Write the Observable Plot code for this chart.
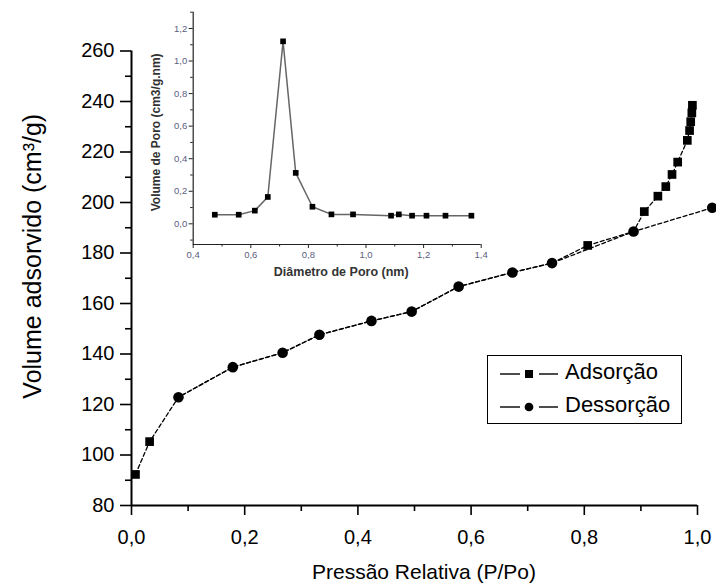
<!DOCTYPE html>
<html>
<head>
<meta charset="utf-8">
<script src="https://cdn.jsdelivr.net/npm/d3@7"></script>
<script src="https://cdn.jsdelivr.net/npm/@observablehq/plot@0.6"></script>
<style>
  html, body { margin: 0; padding: 0; background: #fff; }
  #wrap { position: relative; width: 716px; height: 587px; overflow: hidden; }
  #main, #inset { position: absolute; left: 0; top: 0; }
  #inset g[aria-label$="tick label"] { fill: #5a6080; }
  #legend { position: absolute; left: 487px; top: 355px; width: 195px; height: 69px;
            box-sizing: border-box; border: 1.5px solid #000; background: #fff;
            font-family: "Liberation Sans", Arial, sans-serif; font-size: 22px; }
  #legend svg { position: absolute; left: 0; top: 0; }
  #legend .t { position: absolute; left: 77px; line-height: 1; }
</style>
</head>
<body>
<div id="wrap">
  <div id="main"></div>
  <div id="inset"></div>
  <div id="legend">
    <svg width="195" height="69"></svg>
    <span class="t" style="top:5px">Adsorção</span>
    <span class="t" style="top:38px">Dessorção</span>
  </div>
</div>
<script>
// ---- main isotherm data ----
const adsX = [0.007, 0.032, 0.083, 0.179, 0.267, 0.332, 0.424, 0.495, 0.578, 0.673, 0.743, 0.806, 0.887, 0.906, 0.930, 0.944, 0.955, 0.965, 0.982, 0.986, 0.988, 0.990, 0.991];
const adsY = [92.3, 105.3, 122.9, 134.8, 140.5, 147.6, 153.1, 156.8, 166.7, 172.3, 176.0, 183.0, 188.5, 196.4, 202.5, 206.3, 211.1, 216.0, 224.6, 228.5, 232.0, 235.5, 238.5];
const desX = [1.026, 0.887, 0.743, 0.673, 0.578, 0.495, 0.424, 0.332, 0.267, 0.179, 0.083];
const desY = [197.9, 188.5, 176.0, 172.3, 166.7, 156.8, 153.1, 147.6, 140.5, 134.8, 122.9];
// ---- inset (pore size distribution) ----
const poreD = [0.475, 0.558, 0.614, 0.659, 0.712, 0.756, 0.814, 0.880, 0.955, 1.087, 1.114, 1.160, 1.210, 1.276, 1.366];
const poreV = [0.056, 0.056, 0.081, 0.165, 1.121, 0.313, 0.105, 0.058, 0.058, 0.050, 0.058, 0.050, 0.050, 0.050, 0.050];
// ---- ticks & labels ----
const xTicks = [0, 0.2, 0.4, 0.6, 0.8, 1.0];
const xMinor = [0.1, 0.3, 0.5, 0.7, 0.9];
const yTicks = [80, 100, 120, 140, 160, 180, 200, 220, 240, 260];
const yMinor = [90, 110, 130, 150, 170, 190, 210, 230, 250];
const insetXTicks = [0.4, 0.6, 0.8, 1.0, 1.2, 1.4];
const insetXMinor = [0.5, 0.7, 0.9, 1.1, 1.3];
const insetYTicks = [0, 0.2, 0.4, 0.6, 0.8, 1.0, 1.2];
const insetYMinor = [-0.1, 0.1, 0.3, 0.5, 0.7, 0.9, 1.1, 1.3];
const xLabel = "Pressão Relativa (P/Po)";
const yLabel = "Volume adsorvido (cm³/g)";
const insetXLabel = "Diâmetro de Poro (nm)";
const insetYLabel = "Volume de Poro (cm3/g.nm)";
const seriesNames = ["Adsorção", "Dessorção"];

const fmt = d => d.toFixed(1).replace(".", ",");
const blank = () => "";
const ads = adsX.map((x, i) => ({x, y: adsY[i]}));
const des = desX.map((x, i) => ({x, y: desY[i]}));
const pore = poreD.map((x, i) => ({x, y: poreV[i]}));

const main = Plot.plot({
  width: 716, height: 587,
  marginLeft: 131, marginRight: 19, marginTop: 50.5, marginBottom: 82,
  style: {fontFamily: "'Liberation Sans', Arial, sans-serif", background: "transparent", color: "#000"},
  x: {domain: [0, 1]},
  y: {domain: [80, 260]},
  marks: [
    Plot.axisX(xMinor, {tickSize: 6, tickFormat: blank, label: null, strokeWidth: 1.6}),
    Plot.axisX(xTicks, {tickSize: 10, tickPadding: 14, tickFormat: fmt, label: null, fontSize: 20, strokeWidth: 1.6}),
    Plot.axisY(yMinor, {tickSize: 6, tickFormat: blank, label: null, strokeWidth: 1.6}),
    Plot.axisY(yTicks, {tickSize: 11, tickPadding: 6, tickFormat: d => String(d), label: null, fontSize: 20, strokeWidth: 1.6}),
    Plot.ruleX([0], {strokeWidth: 2}),
    Plot.ruleY([80], {strokeWidth: 2}),
    Plot.line(ads, {x: "x", y: "y", stroke: "#000", strokeWidth: 1.3, strokeDasharray: "4,2.6"}),
    Plot.line(des, {x: "x", y: "y", stroke: "#000", strokeWidth: 1.3, strokeDasharray: "4,2.6"}),
    Plot.dot(ads, {x: "x", y: "y", symbol: "square", r: 4.9, fill: "#000", filter: d => !desX.includes(d.x) || d.x === 0.806}),
    Plot.dot(des, {x: "x", y: "y", symbol: "circle", r: 5.3, fill: "#000"}),
    Plot.text([yLabel], {frameAnchor: "left", textAnchor: "middle", rotate: -90, dx: -99, dy: -22, fontSize: 25, fill: "#000"}),
    Plot.text([xLabel], {frameAnchor: "bottom", textAnchor: "middle", dx: 9.5, dy: 73, fontSize: 21, fill: "#000"})
  ]
});
document.getElementById("main").appendChild(main);

const inset = Plot.plot({
  width: 490, height: 290,
  marginLeft: 192.7, marginRight: 9.3, marginTop: 11.7, marginBottom: 46,
  style: {fontFamily: "'Liberation Sans', Arial, sans-serif", background: "transparent", color: "#222"},
  x: {domain: [0.4, 1.4]},
  y: {domain: [-0.127, 1.3]},
  marks: [
    Plot.axisX(insetXMinor, {tickSize: 2.5, tickFormat: blank, label: null}),
    Plot.axisX(insetXTicks, {tickSize: 4, tickPadding: 3, tickFormat: fmt, label: null, fontSize: 9.5}),
    Plot.axisY(insetYMinor, {tickSize: 2.5, tickFormat: blank, label: null}),
    Plot.axisY(insetYTicks, {tickSize: 4, tickPadding: 2, tickFormat: fmt, label: null, fontSize: 9.5}),
    Plot.ruleX([0.4], {stroke: "#222", strokeWidth: 1.2}),
    Plot.ruleY([-0.127], {stroke: "#222", strokeWidth: 1.2}),
    Plot.line(pore, {x: "x", y: "y", stroke: "#666", strokeWidth: 1.5}),
    Plot.dot(pore, {x: "x", y: "y", symbol: "square", r: 3.2, fill: "#000"}),
    Plot.text([insetXLabel], {frameAnchor: "bottom", textAnchor: "middle", dx: 4, dy: 31, fontSize: 12.5, fontWeight: "bold", fill: "#333"}),
    Plot.text([insetYLabel], {frameAnchor: "left", textAnchor: "middle", rotate: -90, dx: -37, dy: 4, fontSize: 12, fontWeight: "bold", fill: "#333"})
  ]
});
document.getElementById("inset").appendChild(inset);

// legend symbols
const lsvg = d3.select("#legend svg");
const rows = [{y: 18, sym: "square"}, {y: 51, sym: "circle"}];
rows.forEach((r, i) => {
  lsvg.append("line").attr("x1", 12).attr("x2", 32).attr("y1", r.y).attr("y2", r.y).attr("stroke", "#000").attr("stroke-width", 1.4);
  lsvg.append("line").attr("x1", 51).attr("x2", 70).attr("y1", r.y).attr("y2", r.y).attr("stroke", "#000").attr("stroke-width", 1.4);
  lsvg.append("path").attr("transform", `translate(41,${r.y})`)
    .attr("d", d3.symbol(r.sym === "square" ? d3.symbolSquare : d3.symbolCircle, r.sym === "square" ? 64 : 60)())
    .attr("fill", "#000");
});
</script>
</body>
</html>
